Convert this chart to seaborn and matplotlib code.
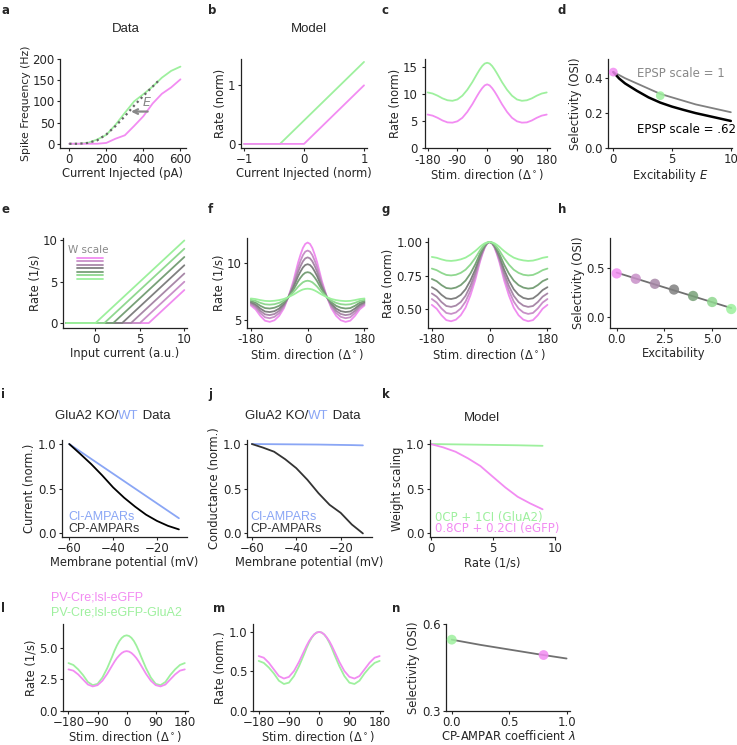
import numpy as np
import matplotlib.pyplot as plt
import seaborn as sns

sns.set_style('ticks')
plt.rcParams['font.family'] = ['DejaVu Sans']
plt.rcParams.update({'font.size': 8.3, 'axes.linewidth': 0.9, 'axes.edgecolor': '#222222',
                     'xtick.major.size': 2.5, 'ytick.major.size': 2.5,
                     'xtick.major.width': 0.8, 'ytick.major.width': 0.8,
                     'xtick.major.pad': 1.0, 'ytick.major.pad': 1.5,
                     'xtick.labelsize': 8.5, 'ytick.labelsize': 8.5, 'axes.labelsize': 8.3,
                     'axes.labelpad': 1.0})

PINK = '#f28cf2'
GREEN = '#9ef09e'
BLUE = '#8aa6f5'
GRAD = ['#f08cf0', '#c890c8', '#a888a8', '#808080', '#78a078', '#90d890', '#9cf09c']
ARIAL = 'Liberation Sans'

# ---- data ----
# a: f-I curves
a_cur = [0, 50, 100, 150, 200, 250, 300, 350, 400, 450, 500, 550, 600]
a_green = [0, 0, 2, 10, 21, 45, 73, 100, 117, 135, 156, 172, 182]
a_pink = [0, 0, 0, 0, 2, 12, 20, 42, 65, 95, 118, 133, 152]
a_fit_cur = [0, 50, 100, 150, 200, 250, 300, 350, 400, 450, 480]
a_fit = [0, 0, 2, 8, 22, 42, 65, 90, 113, 135, 148]

# b: model f-I
b_green_x = [-1, -0.4, 1]
b_green_y = [0, 0, 1.4]
b_pink_x = [-1, 0, 1]
b_pink_y = [0, 0, 1]

# c: tuning curves
theta = [-180, -165, -150, -135, -120, -105, -90, -75, -60, -45, -37.5, -30, -22.5, -15,
         -7.5, 0, 7.5, 15, 22.5, 30, 37.5, 45, 60, 75, 90, 105, 120, 135, 150, 165, 180]
c_green = [10.3, 10.1, 9.7, 9.2, 8.85, 8.75, 9.0, 9.7, 10.8, 12.2, 13.0, 13.8, 14.55, 15.2,
           15.65, 15.8, 15.65, 15.2, 14.55, 13.8, 13.0, 12.2, 10.8, 9.7, 9.0, 8.75, 8.85,
           9.2, 9.7, 10.1, 10.3]
c_pink = [6.2, 6.0, 5.6, 5.1, 4.75, 4.7, 4.95, 5.6, 6.7, 8.1, 8.9, 9.7, 10.45, 11.1,
          11.6, 11.8, 11.6, 11.1, 10.45, 9.7, 8.9, 8.1, 6.7, 5.6, 4.95, 4.7, 4.75,
          5.1, 5.6, 6.0, 6.2]

# d: selectivity vs excitability
d_exc = [0, 0.5, 1, 2, 3, 4, 5, 6, 7, 8, 9, 10]
d_gray = [0.435, 0.418, 0.40, 0.37, 0.34, 0.31, 0.29, 0.27, 0.25, 0.235, 0.22, 0.205]
d_black = [0.435, 0.398, 0.37, 0.328, 0.29, 0.26, 0.237, 0.218, 0.20, 0.185, 0.17, 0.155]
d_dot_x = [0, 4]
d_dot_y = [0.435, 0.30]

# e: shifted threshold-linear units (pink -> green)
e_thresh = [6, 5, 4, 3, 2, 1, 0]
e_end = [4, 5, 6, 7, 8, 9, 10]
e_start = -3.3

# f: tuning curves for 7 excitability levels (pink -> green)
f_curves = [
    [6.28, 5.94, 5.37, 4.94, 4.84, 4.98, 5.37, 6.04, 7.10, 8.44, 9.26, 10.07, 10.74, 11.32,
     11.68, 11.80, 11.68, 11.32, 10.74, 10.07, 9.26, 8.44, 7.10, 6.04, 5.37, 4.98, 4.84,
     4.94, 5.37, 5.94, 6.28],
    [6.39, 6.10, 5.61, 5.24, 5.16, 5.28, 5.61, 6.18, 7.08, 8.23, 8.93, 9.62, 10.20, 10.69,
     11.00, 11.10, 11.00, 10.69, 10.20, 9.62, 8.93, 8.23, 7.08, 6.18, 5.61, 5.28, 5.16,
     5.24, 5.61, 6.10, 6.39],
    [6.48, 6.23, 5.81, 5.50, 5.43, 5.53, 5.81, 6.30, 7.07, 8.05, 8.65, 9.24, 9.73, 10.15,
     10.41, 10.50, 10.41, 10.15, 9.73, 9.24, 8.65, 8.05, 7.07, 6.30, 5.81, 5.53, 5.43,
     5.50, 5.81, 6.23, 6.48],
    [6.57, 6.36, 6.01, 5.75, 5.70, 5.78, 6.01, 6.42, 7.06, 7.87, 8.36, 8.86, 9.26, 9.61,
     9.83, 9.90, 9.83, 9.61, 9.26, 8.86, 8.36, 7.87, 7.06, 6.42, 6.01, 5.78, 5.70,
     5.75, 6.01, 6.36, 6.57],
    [6.67, 6.52, 6.25, 6.05, 6.01, 6.08, 6.25, 6.56, 7.04, 7.66, 8.03, 8.41, 8.72, 8.98,
     9.15, 9.20, 9.15, 8.98, 8.72, 8.41, 8.03, 7.66, 7.04, 6.56, 6.25, 6.08, 6.01,
     6.05, 6.25, 6.52, 6.67],
    [6.78, 6.68, 6.51, 6.38, 6.35, 6.39, 6.51, 6.71, 7.03, 7.44, 7.68, 7.93, 8.13, 8.31,
     8.41, 8.45, 8.41, 8.31, 8.13, 7.93, 7.68, 7.44, 7.03, 6.71, 6.51, 6.39, 6.35,
     6.38, 6.51, 6.68, 6.78],
    [6.89, 6.84, 6.75, 6.68, 6.66, 6.69, 6.75, 6.85, 7.02, 7.23, 7.35, 7.48, 7.59, 7.68,
     7.73, 7.75, 7.73, 7.68, 7.59, 7.48, 7.35, 7.23, 7.02, 6.85, 6.75, 6.69, 6.66,
     6.68, 6.75, 6.84, 6.89],
]

# h: OSI vs excitability
h_exc = [0, 1, 2, 3, 4, 5, 6]
h_osi = [0.442, 0.388, 0.337, 0.279, 0.214, 0.153, 0.082]

# i, j: I-V data
vm = [-60, -55, -50, -45, -40, -35, -30, -25, -20, -15, -10]
i_ci = [1.0, 0.917, 0.834, 0.751, 0.668, 0.585, 0.502, 0.419, 0.336, 0.253, 0.17]
i_cp = [1.0, 0.89, 0.776, 0.65, 0.515, 0.40, 0.30, 0.21, 0.14, 0.085, 0.045]
j_ci = [1.0, 0.999, 0.998, 0.997, 0.996, 0.995, 0.994, 0.992, 0.99, 0.988, 0.985]
j_cp = [1.0, 0.96, 0.914, 0.83, 0.73, 0.60, 0.45, 0.32, 0.23, 0.10, 0.0]

# k: weight scaling vs rate
k_rate = [0, 1, 2, 3, 4, 5, 6, 7, 8, 9]
k_green = [1.0, 0.998, 0.996, 0.994, 0.992, 0.99, 0.988, 0.986, 0.983, 0.98]
k_pink = [1.0, 0.963, 0.914, 0.84, 0.754, 0.634, 0.515, 0.41, 0.336, 0.27]

# l, m: tuning of the two mouse lines
l_green = [3.8, 3.65, 3.3, 2.85, 2.3, 2.05, 2.15, 2.65, 3.4, 4.3, 4.78, 5.2, 5.55, 5.8,
           5.95, 6.0, 5.95, 5.8, 5.55, 5.2, 4.78, 4.3, 3.4, 2.65, 2.15, 2.05, 2.3,
           2.85, 3.3, 3.65, 3.8]
l_pink = [3.3, 3.2, 2.9, 2.5, 2.1, 1.95, 2.05, 2.4, 2.95, 3.6, 3.92, 4.2, 4.42, 4.6,
          4.71, 4.75, 4.71, 4.6, 4.42, 4.2, 3.92, 3.6, 2.95, 2.4, 2.05, 1.95, 2.1,
          2.5, 2.9, 3.2, 3.3]

# n: OSI vs CP-AMPAR coefficient
n_lam = [0, 0.25, 0.5, 0.75, 1.0]
n_osi = [0.546, 0.528, 0.512, 0.496, 0.481]
n_dot_x = [0, 0.8]
n_dot_y = [0.546, 0.493]

# ---- figure ----
W, H = 737, 745
fig = plt.figure(figsize=(W / 100, H / 100), dpi=100)


def add_ax(l, t, r, b):
    ax = fig.add_axes([l / W, 1 - b / H, (r - l) / W, (b - t) / H])
    sns.despine(ax=ax)
    return ax


def letter(x, y, s):
    fig.text(x / W, 1 - y / H, s, weight='bold', fontsize=8.5, va='top', ha='left')


def title(ax, x, s):
    ax.text(x, 1.2, s, transform=ax.transAxes, family=ARIAL, fontsize=9.5,
            ha='center', va='baseline')


LW = 1.3
stim_lab = r'Stim. direction ($\Delta^\circ$)'

# a
ax = add_ax(60, 59, 186, 148)
sns.lineplot(x=a_cur, y=a_green, ax=ax, color=GREEN, lw=LW)
sns.lineplot(x=a_cur, y=a_pink, ax=ax, color=PINK, lw=LW)
sns.lineplot(x=a_fit_cur, y=a_fit, ax=ax, color='#666666', lw=1.6, ls=(0, (1, 1.5)))
ax.annotate('', xy=(318, 76), xytext=(438, 76),
            arrowprops=dict(arrowstyle='->', color='#888888', lw=1.6))
ax.text(395, 90, 'E', style='italic', color='#888888', fontsize=9)
ax.set_xlim(-50, 630)
ax.set_ylim(-10, 200)
ax.set_xticks([0, 200, 400, 600])
ax.set_yticks([0, 50, 100, 150, 200])
ax.set_xlabel('Current Injected (pA)')
ax.set_ylabel('Spike Frequency (Hz)', fontsize=7.8)
ax.text(0.52, 1.3, 'Data', transform=ax.transAxes, family=ARIAL, fontsize=9.5,
        ha='center', va='baseline')

# b
ax = add_ax(241, 59, 367, 148)
sns.lineplot(x=b_green_x, y=b_green_y, ax=ax, color=GREEN, lw=LW)
sns.lineplot(x=b_pink_x, y=b_pink_y, ax=ax, color=PINK, lw=LW)
ax.set_xlim(-1.05, 1.05)
ax.set_ylim(-0.07, 1.45)
ax.set_xticks([-1, 0, 1])
ax.set_yticks([0, 1])
ax.set_xlabel('Current Injected (norm)')
ax.set_ylabel('Rate (norm)')
ax.text(0.54, 1.3, 'Model', transform=ax.transAxes, family=ARIAL, fontsize=9.5,
        ha='center', va='baseline')

# c
ax = add_ax(425, 59, 550, 148)
sns.lineplot(x=theta, y=c_green, ax=ax, color=GREEN, lw=LW)
sns.lineplot(x=theta, y=c_pink, ax=ax, color=PINK, lw=LW)
ax.set_xlim(-188, 190)
ax.set_ylim(0, 16.5)
ax.set_xticks([-180, -90, 0, 90, 180])
ax.set_xticklabels(['-180', '-90', '0', '90', '180'])
ax.set_yticks([0, 5, 10, 15])
ax.tick_params(axis='y', pad=3)
ax.tick_params(axis='x', pad=2)
ax.set_xlabel(stim_lab, labelpad=0)
ax.set_ylabel('Rate (norm)', labelpad=0)

# d
ax = add_ax(608, 59, 732, 148)
sns.lineplot(x=d_exc, y=d_gray, ax=ax, color='#808080', lw=LW)
sns.lineplot(x=d_exc, y=d_black, ax=ax, color='black', lw=1.8)
sns.scatterplot(x=d_dot_x, y=d_dot_y, ax=ax, hue=['p', 'g'], palette=[PINK, GREEN],
                s=40, alpha=0.85, linewidth=0, legend=False, zorder=5)
ax.text(2.0, 0.425, 'EPSP scale = 1', color='#888888', fontsize=8.5, va='center')
ax.text(2.0, 0.108, 'EPSP scale = .62', color='black', fontsize=8.5, va='center')
ax.set_xlim(-0.45, 10.1)
ax.set_ylim(0, 0.51)
ax.set_xticks([0, 5, 10])
ax.set_yticks([0.0, 0.2, 0.4])
ax.set_xlabel('Excitability $E$')
ax.set_ylabel('Selectivity (OSI)')

# e
ax = add_ax(63, 238, 187, 328)
for t, end, c in zip(e_thresh, e_end, GRAD):
    sns.lineplot(x=[e_start, t, 10], y=[0, 0, end], ax=ax, color=c, lw=LW)
ax.text(0.04, 0.87, 'W scale', transform=ax.transAxes, color='#888888', fontsize=7.5,
        va='center')
for k, c in enumerate(GRAD):
    ax.plot([0.11, 0.32], [0.78 - 0.039 * k] * 2, transform=ax.transAxes, color=c, lw=LW)
ax.set_xlim(-3.65, 10.3)
ax.set_ylim(-0.6, 10.3)
ax.set_xticks([0, 5, 10])
ax.set_yticks([0, 5, 10])
ax.set_xlabel('Input current (a.u.)')
ax.set_ylabel('Rate (1/s)')

# f
ax = add_ax(247, 238, 367, 328)
for y, c in zip(f_curves, GRAD):
    sns.lineplot(x=theta, y=y, ax=ax, color=c, lw=LW)
ax.set_xlim(-192, 188)
ax.set_ylim(4.3, 12.2)
ax.set_xticks([-180, 0, 180])
ax.set_xticklabels(['-180', '0', '180'])
ax.set_yticks([5, 10])
ax.set_xlabel(stim_lab)
ax.set_ylabel('Rate (1/s)')

# g (same curves, normalised to their peak)
ax = add_ax(428, 238, 550, 328)
for y, c in zip(f_curves, GRAD):
    y = np.array(y)
    sns.lineplot(x=theta, y=y / y.max(), ax=ax, color=c, lw=LW)
ax.set_xlim(-192, 188)
ax.set_ylim(0.36, 1.03)
ax.set_xticks([-180, 0, 180])
ax.set_xticklabels(['-180', '0', '180'])
ax.set_yticks([0.5, 0.75, 1.0])
ax.set_yticklabels(['0.50', '0.75', '1.00'])
ax.set_xlabel(stim_lab)
ax.set_ylabel('Rate (norm)')

# h
ax = add_ax(610, 238, 737, 328)
sns.regplot(x=h_exc, y=h_osi, ax=ax, ci=None, scatter=False,
            line_kws=dict(color='#707070', lw=LW))
sns.scatterplot(x=h_exc, y=h_osi, ax=ax, hue=h_exc, palette=GRAD, s=55, alpha=0.85,
                linewidth=0, legend=False, zorder=5)
ax.set_xlim(-0.35, 6.3)
ax.set_ylim(-0.11, 0.8)
ax.set_xticks([0, 2.5, 5.0])
ax.set_xticklabels(['0.0', '2.5', '5.0'])
ax.set_yticks([0.0, 0.5])
ax.set_xlabel('Excitability')
ax.set_ylabel('Selectivity (OSI)')


def ko_title(ax, x0):
    t1 = ax.text(x0, 1.215, 'GluA2 KO/', transform=ax.transAxes, family=ARIAL,
                 fontsize=9.5, ha='left', va='baseline')
    t2 = ax.annotate('WT', xy=(1, 0), xycoords=t1, family=ARIAL, fontsize=9.5,
                     color=BLUE, ha='left', va='bottom')
    ax.annotate(' Data', xy=(1, 0), xycoords=t2, family=ARIAL, fontsize=9.5,
                ha='left', va='bottom')


# i
ax = add_ax(62, 440, 187, 537)
sns.lineplot(x=vm, y=i_ci, ax=ax, color=BLUE, lw=LW)
sns.lineplot(x=vm, y=i_cp, ax=ax, color='black', lw=LW)
ax.text(-60.5, 0.18, 'CI-AMPARs', color=BLUE, family=ARIAL, fontsize=9, va='center')
ax.text(-60.5, 0.05, 'CP-AMPARs', color='#333333', family=ARIAL, fontsize=9, va='center')
ax.set_xlim(-63.3, -6.3)
ax.set_ylim(-0.04, 1.045)
ax.set_xticks([-60, -40, -20])
ax.set_yticks([0.0, 0.5, 1.0])
ax.set_xlabel('Membrane potential (mV)')
ax.set_ylabel('Current (norm.)')
ko_title(ax, -0.056)

# j
ax = add_ax(247, 440, 372, 537)
sns.lineplot(x=vm, y=j_ci, ax=ax, color=BLUE, lw=LW)
sns.lineplot(x=vm, y=j_cp, ax=ax, color='#333333', lw=LW)
ax.text(-60.5, 0.18, 'CI-AMPARs', color=BLUE, family=ARIAL, fontsize=9, va='center')
ax.text(-60.5, 0.05, 'CP-AMPARs', color='#333333', family=ARIAL, fontsize=9, va='center')
ax.set_xlim(-62.2, -5.9)
ax.set_ylim(-0.04, 1.045)
ax.set_xticks([-60, -40, -20])
ax.set_yticks([0.0, 0.5, 1.0])
ax.set_xlabel('Membrane potential (mV)')
ax.set_ylabel('Conductance (norm.)')
ko_title(ax, -0.016)

# k
ax = add_ax(430, 440, 555, 537)
sns.lineplot(x=k_rate, y=k_green, ax=ax, color=GREEN, lw=LW)
sns.lineplot(x=k_rate, y=k_pink, ax=ax, color=PINK, lw=LW)
ax.text(0.35, 0.18, '0CP + 1CI (GluA2)', color=GREEN, fontsize=8.5, va='center')
ax.text(0.35, 0.05, '0.8CP + 0.2CI (eGFP)', color=PINK, fontsize=8.5, va='center')
ax.set_xlim(-0.05, 10)
ax.set_ylim(-0.04, 1.045)
ax.set_xticks([0, 5, 10])
ax.set_yticks([0.0, 0.5, 1.0])
ax.set_xlabel('Rate (1/s)')
ax.set_ylabel('Weight scaling')
title(ax, 0.416, 'Model')

# l
ax = add_ax(63, 624, 188, 711)
sns.lineplot(x=theta, y=l_green, ax=ax, color=GREEN, lw=LW)
sns.lineplot(x=theta, y=l_pink, ax=ax, color=PINK, lw=LW)
ax.text(-0.1, 1.31, 'PV-Cre;lsl-eGFP', transform=ax.transAxes, color=PINK,
        family=ARIAL, fontsize=9, va='center')
ax.text(-0.1, 1.13, 'PV-Cre;lsl-eGFP-GluA2', transform=ax.transAxes, color=GREEN,
        family=ARIAL, fontsize=9, va='center')
ax.set_xlim(-197, 190)
ax.set_ylim(0, 6.9)
ax.set_xticks([-180, -90, 0, 90, 180])
ax.set_yticks([0.0, 2.5, 5.0])
ax.set_xlabel(stim_lab, labelpad=0)
ax.set_ylabel('Rate (1/s)')

# m (normalised)
ax = add_ax(253, 624, 383, 711)
lp = np.array(l_pink)
lg = np.array(l_green)
sns.lineplot(x=theta, y=lg / lg.max(), ax=ax, color=GREEN, lw=LW)
sns.lineplot(x=theta, y=lp / lp.max(), ax=ax, color=PINK, lw=LW)
ax.set_xlim(-197, 190)
ax.set_ylim(0, 1.1)
ax.set_xticks([-180, -90, 0, 90, 180])
ax.set_yticks([0.0, 0.5, 1.0])
ax.set_xlabel(stim_lab, labelpad=0)
ax.set_ylabel('Rate (norm.)')

# n
ax = add_ax(446, 624, 570, 711)
sns.lineplot(x=n_lam, y=n_osi, ax=ax, color='#707070', lw=LW)
sns.scatterplot(x=n_dot_x, y=n_dot_y, ax=ax, hue=['g', 'p'], palette=[GREEN, PINK],
                s=50, alpha=0.85, linewidth=0, legend=False, zorder=5)
ax.set_xlim(-0.05, 1.03)
ax.set_ylim(0.3, 0.6)
ax.set_xticks([0.0, 0.5, 1.0])
ax.set_yticks([0.3, 0.6])
ax.set_xlabel(r'CP-AMPAR coefficient $\lambda$', labelpad=0)
ax.set_ylabel('Selectivity (OSI)')

for x, y, s in [(1, 4, 'a'), (208, 4, 'b'), (382, 4, 'c'), (558, 4, 'd'),
                (1, 203, 'e'), (208, 203, 'f'), (382, 203, 'g'), (558, 203, 'h'),
                (1, 388, 'i'), (208, 388, 'j'), (382, 388, 'k'),
                (1, 602, 'l'), (213, 602, 'm'), (392, 602, 'n')]:
    letter(x, y, s)

fig.savefig('out.png', dpi=100)
